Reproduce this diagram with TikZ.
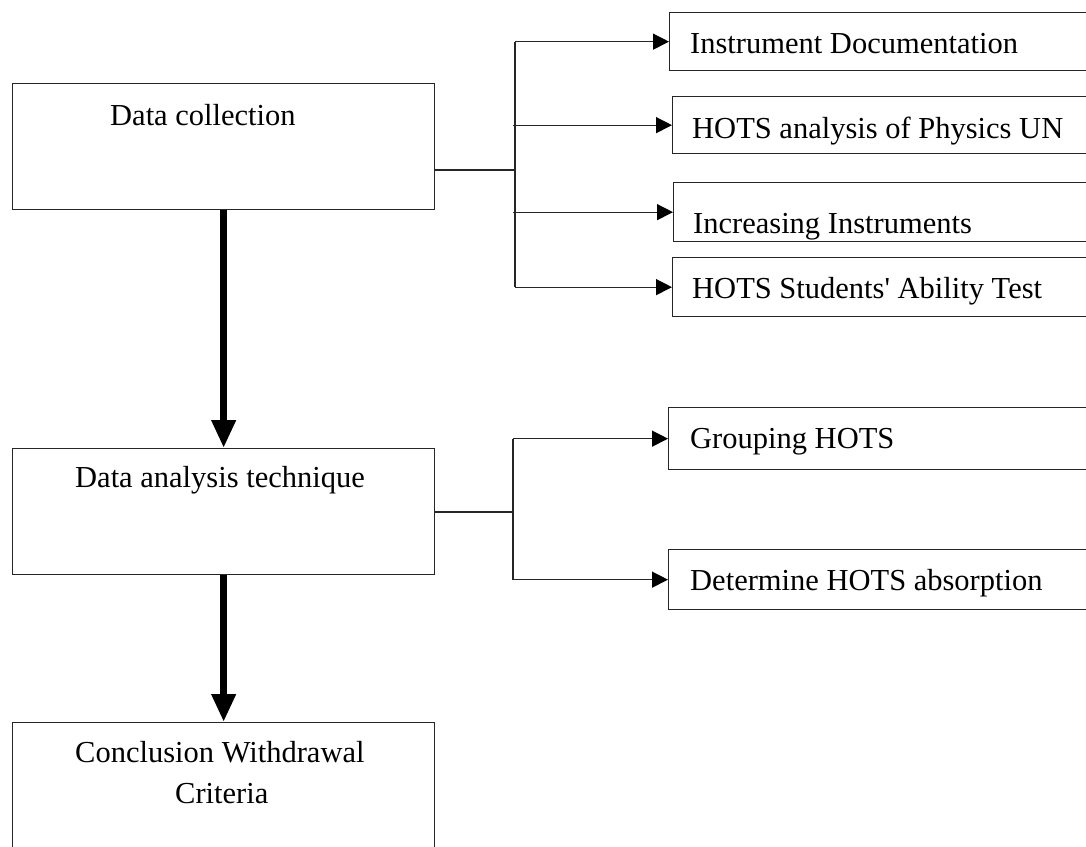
\documentclass[tikz,border=0pt]{standalone}
\usepackage{fontspec}
\setmainfont{Liberation Serif}
\usetikzlibrary{arrows.meta}
\begin{document}
\begin{tikzpicture}[x=1pt,y=-1pt,
  box/.style={draw=black!85,line width=1.3pt,rectangle,inner sep=0pt,anchor=north west},
  lbl/.style={anchor=base west,inner sep=0pt,font=\fontsize{30.5}{36}\selectfont},
  conn/.style={draw=black!85,line width=1.3pt},
  thinarrow/.style={conn,-{Triangle[length=16pt,width=16pt,color=black]}},
  thickarrow/.style={draw=black,line width=7pt,-{Triangle[length=28pt,width=23pt]}}]
\clip (0,0) rectangle (1086,846);
\fill[white] (0,0) rectangle (1086,846);
% left boxes
\node[box,minimum width=422pt,minimum height=126pt] (b1) at (12,83) {};
\node[box,minimum width=422pt,minimum height=126pt] (b2) at (12,448) {};
\node[box,minimum width=422pt,minimum height=160pt] (b3) at (12,722) {};
\node[lbl] (t1) at (110,125) {Data collection};
\node[lbl] (t2) at (75,487) {Data analysis technique};
\node[lbl] (t3) at (75,762) {Conclusion Withdrawal};
\node[lbl] (t3b) at (175,803) {Criteria};
% right boxes
\node[box,minimum width=440pt,minimum height=58pt] (ra) at (669,12) {};
\node[box,minimum width=440pt,minimum height=57pt] (rb) at (672,96) {};
\node[box,minimum width=440pt,minimum height=59pt] (rc) at (673,182) {};
\node[box,minimum width=440pt,minimum height=59pt] (rd) at (672,257) {};
\node[box,minimum width=440pt,minimum height=62pt] (re) at (668,407) {};
\node[box,minimum width=440pt,minimum height=60pt] (rf) at (668,549) {};
\node[lbl] (ta) at (690,53) {Instrument Documentation};
\node[lbl] (tb) at (692,138) {HOTS analysis of Physics UN};
\node[lbl] (tc) at (693,233) {Increasing Instruments};
\node[lbl] (td) at (692,298) {HOTS Students\textquotesingle{} Ability Test};
\node[lbl] (te) at (690,448) {Grouping HOTS};
\node[lbl] (tf) at (690,590) {Determine HOTS absorption};
% thick arrows
\draw[thickarrow] (b1.south) -- (b2.north);
\draw[thickarrow] (b2.south) -- (b3.north);
% bracket 1
\coordinate (j1) at (515,170);
\coordinate (s1) at (513,0);
\draw[conn] (b1.east |- j1) -- (j1);
\draw[conn] (j1 |- ra.west) -- (j1 |- rd.west);
\draw[thinarrow] (j1 |- ra.west) -- (ra.west);
\draw[thinarrow] (s1 |- rb.west) -- (rb.west);
\draw[thinarrow] (s1 |- rc.west) -- (rc.west);
\draw[thinarrow] (j1 |- rd.west) -- (rd.west);
% bracket 2
\coordinate (j2) at (513,512);
\draw[conn] (b2.east |- j2) -- (j2);
\draw[conn] (j2 |- re.west) -- (j2 |- rf.west);
\draw[thinarrow] (j2 |- re.west) -- (re.west);
\draw[thinarrow] (j2 |- rf.west) -- (rf.west);
\end{tikzpicture}
\end{document}
